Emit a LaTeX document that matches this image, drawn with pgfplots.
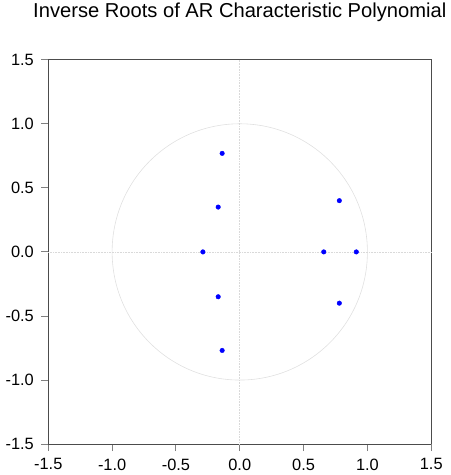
\documentclass[border=0pt]{standalone}
\usepackage{fontspec}
\setmainfont{Liberation Sans}
\usepackage{pgfplots}
\pgfplotsset{compat=1.18}

\begin{document}
\begin{tikzpicture}
\begin{axis}[
    scale only axis,
    width=384.5bp,
    height=386bp,
    xmin=-1.5, xmax=1.5,
    ymin=-1.5, ymax=1.5,
    xtick={-1.5,-1,...,1.5},
    ytick={-1.5,-1,...,1.5},
    xticklabel style={yshift=-4bp},
    yticklabel style={xshift=-4bp},
    xticklabel={\pgfmathprintnumber[fixed,fixed zerofill,precision=1,assume math mode=true]{\tick}},
    yticklabel={\pgfmathprintnumber[fixed,fixed zerofill,precision=1,assume math mode=true]{\tick}},
    tick label style={font=\fontsize{16.5}{18}\selectfont},
    axis lines*=left,
    tick align=outside,
    major tick length=7bp,
    every major tick/.append style={black!50, line width=0.9pt},
    axis line style={-, black!70, line width=0.9pt},
    title={Inverse Roots of AR Characteristic Polynomial},
    title style={at={(0.5,1)}, anchor=base, yshift=36bp, font=\fontsize{20.3}{22}\selectfont},
    clip=false,
]
% top and right frame lines
\draw[black!70, line width=0.9pt] (rel axis cs:0,1) -- (rel axis cs:1,1) -- (rel axis cs:1,0);
% unit circle and zero lines
\draw[black!12, line width=0.6pt] (axis cs:0,0) ellipse [x radius=1, y radius=1];
\draw[black!15, densely dotted, line width=0.6pt] (axis cs:0,-1.5) -- (axis cs:0,1.5);
\draw[black!15, densely dotted, line width=0.6pt] (axis cs:-1.5,0) -- (axis cs:1.5,0);

\addplot[only marks, mark=*, mark size=2.3pt, color=blue] coordinates {
    (-0.138,0.769)
    (-0.169,0.350)
    (-0.289,0.000)
    (-0.169,-0.350)
    (-0.138,-0.769)
    (0.780,0.400)
    (0.658,0.000)
    (0.913,0.000)
    (0.780,-0.400)
};

% page margins as in the reference
\path (rel axis cs:0,0) ++(-48.5bp,-31bp) coordinate (bl);
\path (rel axis cs:1,1) ++(19bp,58bp) coordinate (tr);
\path (bl) rectangle (tr);
\end{axis}
\end{tikzpicture}
\end{document}
